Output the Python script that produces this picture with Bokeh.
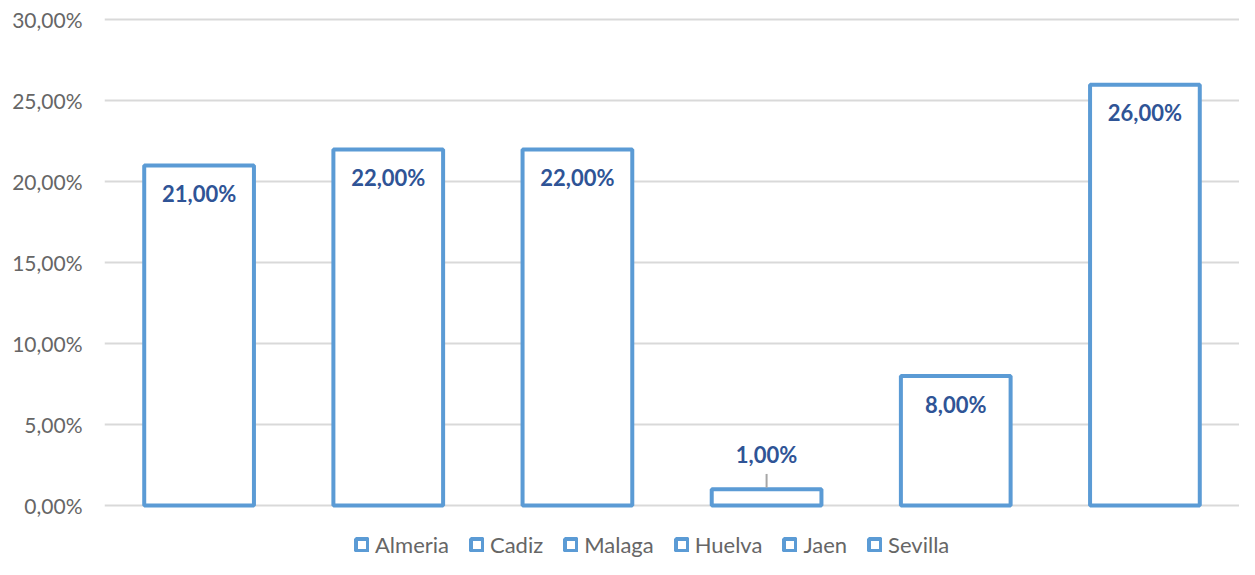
from bokeh.plotting import figure
from bokeh.models import FixedTicker, Legend, ColumnDataSource
from bokeh.core.properties import value
from bokeh.embed import file_html
from bokeh.resources import INLINE

categories = ["Almeria", "Cadiz", "Malaga", "Huelva", "Jaen", "Sevilla"]
values = [21.0, 22.0, 22.0, 1.0, 8.0, 26.0]
tick_values = [0, 5, 10, 15, 20, 25, 30]
tick_labels = ["0,00%", "5,00%", "10,00%", "15,00%", "20,00%", "25,00%", "30,00%"]

BAR_COLOR = "#5B9BD5"
LABEL_COLOR = "#2F5496"
AXIS_TEXT = "#666666"
GRID = "#D9D9D9"
FONT = "Lato"

# layout in pixels
W, H = 1239, 559
TOP, ZERO_Y = 17, 505          # frame top and y of the 0 % line
Y_MAX = 30.15
px_per_unit = (ZERO_Y - TOP) / Y_MAX
y_min = -(H - ZERO_Y) / px_per_unit   # frame extends below 0 to host the legend

p = figure(
    x_range=categories, y_range=(y_min, Y_MAX),
    width=W, height=H,
    output_backend="svg", toolbar_location=None,
    x_axis_location=None,
    min_border_left=104, min_border_right=0, min_border_top=TOP, min_border_bottom=0,
)
p.x_range.range_padding = 0
p.outline_line_color = None
p.background_fill_color = "white"
p.border_fill_color = "white"

items = []
for cat, v in zip(categories, values):
    r = p.vbar(x=[cat], top=[v], bottom=0, width=0.58,
               fill_color="white", line_color=BAR_COLOR, line_width=4)
    items.append((cat, [r]))

# data labels
inside = [v >= 3 for v in values]
lab_src = ColumnDataSource(dict(
    x=categories,
    y=values,
    text=[f"{v:.2f}".replace(".", ",") + "%" for v in values],
    off=[28 if ins else -35 for ins in inside],
))
p.text(x="x", y="y", text="text", y_offset="off", source=lab_src,
       text_align="center", text_baseline="middle",
       text_font=value(FONT), text_font_style="bold",
       text_font_size="22px", text_color=LABEL_COLOR)

# leader lines for labels placed outside
out_cats = [c for c, ins in zip(categories, inside) if not ins]
out_vals = [v for v, ins in zip(values, inside) if not ins]
p.segment(x0=out_cats, y0=[v + 0.1 for v in out_vals],
          x1=out_cats, y1=[v + 0.95 for v in out_vals],
          line_color="#A6A6A6", line_width=2)

# axes / grid
p.yaxis.ticker = FixedTicker(ticks=tick_values)
p.yaxis.major_label_overrides = {t: l for t, l in zip(tick_values, tick_labels)}
p.yaxis.axis_line_color = None
p.yaxis.major_tick_line_color = None
p.yaxis.minor_tick_line_color = None
p.yaxis.major_tick_out = 0
p.yaxis.major_tick_in = 0
p.yaxis.major_label_standoff = 22
p.yaxis.major_label_text_color = AXIS_TEXT
p.yaxis.major_label_text_font = FONT
p.yaxis.major_label_text_font_size = "21px"

p.xgrid.grid_line_color = None
p.ygrid.ticker = FixedTicker(ticks=tick_values)
p.ygrid.grid_line_color = GRID
p.ygrid.grid_line_width = 2

legend = Legend(items=items, orientation="horizontal", location=(250, 1),
                glyph_width=15, glyph_height=15, label_standoff=6, spacing=20,
                padding=0, margin=0, border_line_color=None,
                background_fill_alpha=0,
                label_text_font=FONT, label_text_font_size="22px",
                label_text_color=AXIS_TEXT)
p.add_layout(legend, "center")

open("out.html", "w").write(file_html(p, INLINE))
